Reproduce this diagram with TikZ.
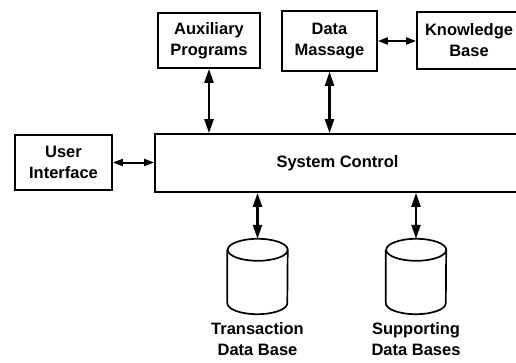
\documentclass[tikz,border=0pt]{standalone}
\usepackage{fontspec}
\setmainfont{Liberation Sans}
\usetikzlibrary{arrows.meta, positioning}

% drum outline around a (hidden) store node
\newcommand{\drumoutline}[1]{%
  \draw[line width=1.7pt] ([yshift=-11pt]#1.north west) -- ([yshift=11pt]#1.south west)
    arc[start angle=180, end angle=360, x radius=30pt, y radius=11pt]
    -- ([yshift=-11pt]#1.north east)
    arc[start angle=0, end angle=360, x radius=30pt, y radius=11pt];}

\begin{document}
\begin{tikzpicture}[
  x=1pt, y=1pt,
  block/.style={rectangle, draw, line width=1.7pt, align=center, inner sep=2pt},
  store/.style={rectangle, minimum width=60pt, minimum height=75pt, inner sep=0pt},
  arr/.style={{Triangle[width=9pt,length=14pt]}-{Triangle[width=9pt,length=14pt]}, line width=2.2pt},
  sarr/.style={{Triangle[width=7pt,length=10pt]}-{Triangle[width=7pt,length=10pt]}, line width=2pt},
  every node/.style={font=\fontsize{16.5}{21}\selectfont\bfseries}
]
  \useasboundingbox (0,0) rectangle (516,362);
  % top row
  \node[block, minimum width=102pt, minimum height=55pt] (aux) at (209, 321.5) {Auxiliary\\Programs};
  \node[block, minimum width=95pt, minimum height=60pt] (massage) at (329.5, 321) {Data\\Massage};
  \node[block, minimum width=104pt, minimum height=57pt] (know) at (469, 321.5) {Knowledge\\Base};
  % middle row
  \node[block, minimum width=365pt, minimum height=58pt] (sysctl) at (337.5, 199) {System Control};
  \node[block, minimum width=97pt, minimum height=55pt] (ui) at (63.5, 199.5) {User\\Interface};
  % data stores
  \node[store] (tdb) at (257.5, 85.5) {};
  \node[store] (sdb) at (416, 85.5) {};
  \drumoutline{tdb}
  \drumoutline{sdb}
  \node[below=8pt of tdb, align=center, inner sep=0pt] (tdblbl) {Transaction\\Data Base};
  \node[below=8pt of sdb, align=center, inner sep=0pt] (sdblbl) {Supporting\\Data Bases};
  % links
  \draw[arr] (aux.south) -- (aux.south |- sysctl.north);
  \draw[arr] (massage.south) -- (massage.south |- sysctl.north);
  \draw[sarr] (massage.east) -- (know.west |- massage.east);
  \draw[sarr] (ui.east) -- (sysctl.west |- ui.east);
  \draw[arr] (tdb.north |- sysctl.south) -- (tdb.north);
  \draw[arr] (sdb.north |- sysctl.south) -- (sdb.north);
\end{tikzpicture}
\end{document}
